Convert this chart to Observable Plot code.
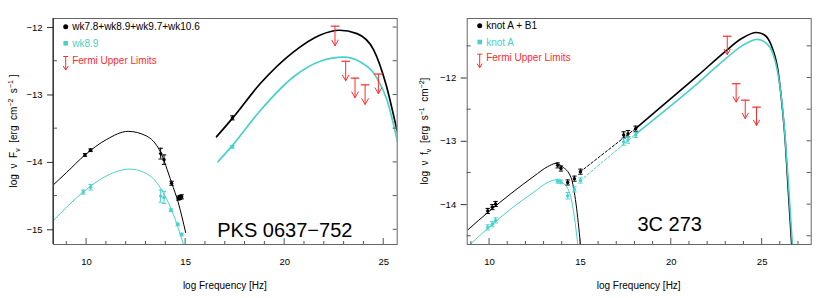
<!DOCTYPE html>
<html><head><meta charset="utf-8">
<script src="https://cdn.jsdelivr.net/npm/d3@7"></script>
<script src="https://cdn.jsdelivr.net/npm/@observablehq/plot@0.6"></script>
<style>
body{margin:0;background:#fff;}
#wrap{display:flex;width:830px;height:298px;overflow:hidden;}
</style></head><body><div id="wrap"></div>
<script>
// ---------- PKS 0637-752 (left panel) ----------
const pksSyncBlackX = [8.3, 8.99, 9.92, 11.01, 12.1, 13.03, 13.7, 14.29, 14.63, 15.0];
const pksSyncBlackY = [-14.34, -14.15, -13.89, -13.66, -13.54, -13.61, -13.83, -14.30, -14.6, -15.04];
const pksSyncCyanX = [8.3, 9.83, 11.01, 12.19, 13.2, 13.87, 14.38, 14.88];
const pksSyncCyanY = [-14.87, -14.44, -14.2, -14.1, -14.2, -14.45, -14.77, -15.21];
const pksICBlackX = [16.56, 17.38, 18.77, 20.45, 21.8, 22.75, 23.65, 24.49, 25.12, 25.59, 25.75];
const pksICBlackY = [-13.62, -13.34, -12.83, -12.36, -12.11, -12.04, -12.09, -12.33, -12.85, -13.42, -13.62];
const pksICCyanX = [16.63, 17.3, 18.77, 20.45, 21.8, 22.98, 23.82, 24.66, 25.17, 25.64, 25.75];
const pksICCyanY = [-13.99, -13.77, -13.23, -12.73, -12.5, -12.44, -12.51, -12.75, -13.08, -13.62, -13.76];
const pksPtsBlackX = [9.92, 10.2, 13.74, 13.91, 14.29, 14.63, 14.72, 14.8, 17.36];
const pksPtsBlackY = [-13.89, -13.82, -13.87, -13.96, -14.31, -14.53, -14.52, -14.51, -13.34];
const pksPtsBlackE = [0.02, 0.02, 0.08, 0.07, 0.03, 0.03, 0.03, 0.03, 0.03];
const pksPtsCyanX = [9.83, 10.2, 13.74, 13.91, 14.26, 14.6, 14.8, 17.36];
const pksPtsCyanY = [-14.44, -14.37, -14.5, -14.52, -14.71, -14.92, -15.07, -13.77];
const pksPtsCyanE = [0.03, 0.04, 0.09, 0.09, 0.02, 0.02, 0.02, 0.02];
const pksULX = [22.54, 23.08, 23.55, 24.06, 24.73];
const pksULY = [-11.98, -12.5, -12.75, -12.85, -12.69];

// ---------- 3C 273 (right panel) ----------
const c3SyncBlackX = [8.8, 9.96, 11.16, 12.45, 13.2, 13.65, 14.0, 14.48, 14.76, 15.0];
const c3SyncBlackY = [-14.4, -14.11, -13.83, -13.55, -13.40, -13.35, -13.40, -13.57, -13.99, -14.62];
const c3SyncCyanX = [8.85, 9.96, 11.16, 12.45, 13.2, 13.65, 14.0, 14.39, 14.67, 14.85];
const c3SyncCyanY = [-14.65, -14.36, -14.07, -13.8, -13.65, -13.61, -13.65, -13.8, -14.2, -14.62];
const c3DashBlackX = [15.0, 18.07];
const c3DashBlackY = [-13.48, -12.79];
const c3DashCyanX = [15.0, 18.07];
const c3DashCyanY = [-13.62, -12.88];
const c3ICBlackX = [18.07, 19.63, 21.47, 22.93, 23.85, 24.68, 25.13, 25.5, 25.87, 26.09, 26.27, 26.41, 26.63];
const c3ICBlackY = [-12.79, -12.41, -11.96, -11.59, -11.38, -11.28, -11.32, -11.48, -11.88, -12.41, -12.99, -13.64, -14.65];
const c3ICCyanX = [18.07, 19.63, 21.47, 22.93, 23.85, 24.73, 25.22, 25.59, 25.87, 26.1, 26.28, 26.44, 26.67];
const c3ICCyanY = [-12.88, -12.52, -12.08, -11.71, -11.5, -11.39, -11.45, -11.61, -11.93, -12.41, -12.99, -13.64, -14.65];
const c3PtsBlackX = [9.9, 10.15, 10.33, 13.75, 13.93, 14.3, 14.67, 15.0, 17.38, 17.62, 18.04];
const c3PtsBlackY = [-14.1, -14.04, -13.99, -13.38, -13.43, -13.65, -13.59, -13.48, -12.9, -12.88, -12.8];
const c3PtsBlackE = [0.04, 0.04, 0.04, 0.04, 0.04, 0.04, 0.04, 0.04, 0.05, 0.05, 0.04];
const c3PtsCyanX = [9.9, 10.15, 10.33, 13.75, 13.93, 14.3, 14.67, 15.0, 17.38, 17.62, 18.04];
const c3PtsCyanY = [-14.36, -14.31, -14.25, -13.63, -13.64, -13.86, -13.76, -13.62, -13.01, -12.98, -12.9];
const c3PtsCyanE = [0.04, 0.04, 0.04, 0.03, 0.03, 0.05, 0.04, 0.04, 0.05, 0.05, 0.04];
const c3ULX = [23.08, 23.57, 24.07, 24.69];
const c3ULY = [-11.34, -12.09, -12.35, -12.46];

const ARROW_LEN = 0.29; // length of upper-limit arrows in log units

const FONT = '"Liberation Sans", Arial, Helvetica, sans-serif';
const CYAN = "#48d1cc";
const RED = "#ff2b2b";

const rows = (xs, ys, es) => xs.map((x, i) => ({x, y: ys[i], e: es ? es[i] : 0}));
const capSymbol = {draw(ctx, size) { const r = Math.sqrt(size / Math.PI); ctx.moveTo(-r, 0); ctx.lineTo(r, 0); }};
const range = (a, b, s) => d3.range(a, b + s / 2, s);

function deco(o) {
  return (index, scales, values, dims) => {
    const {x, y} = scales;
    const L = dims.marginLeft, R = dims.width - dims.marginRight, T = dims.marginTop, B = dims.height - dims.marginBottom;
    const g = d3.create("svg:g").attr("font-family", FONT).attr("text-anchor", "start");
    const tk = g.append("g").attr("stroke", "#555").attr("stroke-width", 1);
    for (const v of o.yMinorLeft) tk.append("line").attr("x1", L).attr("x2", L + 4).attr("y1", y(v)).attr("y2", y(v));
    for (const v of o.yRight) tk.append("line").attr("x1", R).attr("x2", R - 4).attr("y1", y(v)).attr("y2", y(v));
    for (const v of o.xMinor) tk.append("line").attr("x1", x(v)).attr("x2", x(v)).attr("y1", B).attr("y2", B - (v % 5 === 0 ? 6 : 3));
    if (o.leftDark) g.append("line").attr("x1", L).attr("x2", L).attr("y1", T).attr("y2", B).attr("stroke", "#111");
    // y label
    const t = g.append("text").attr("transform", `translate(${L - o.yLabelOff},${(T + B) / 2}) rotate(-90)`)
      .attr("text-anchor", "middle").attr("font-size", 10);
    for (const [s, k] of o.yLabel) {
      const sp = t.append("tspan").text(s);
      if (k === "sub") sp.attr("dy", 3).attr("font-size", 7);
      else if (k === "sup") sp.attr("dy", -4).attr("font-size", 7);
      else if (k === "back-sub") sp.attr("dy", -3);
      else if (k === "back-sup") sp.attr("dy", 4);
    }
    // x label
    g.append("text").attr("x", (L + R) / 2).attr("y", B + 45).attr("text-anchor", "middle").attr("font-size", 10).text("log Frequency [Hz]");
    // source name
    g.append("text").attr("x", (L + R) / 2 + o.nameDx).attr("y", B - o.nameDy).attr("text-anchor", "middle").attr("font-size", 20).text(o.name);
    // legend
    const lx = L + o.legX, tx = L + o.legX + 6.5, ly = o.legY.map(v => T + v);
    g.append("circle").attr("cx", lx).attr("cy", ly[0]).attr("r", 2.5).attr("fill", "#000");
    g.append("text").attr("x", tx).attr("y", ly[0]).attr("dy", "0.35em").attr("font-size", 10).attr("fill", "#000").text(o.leg[0]);
    g.append("rect").attr("x", lx - 2.3).attr("y", ly[1] - 2.3).attr("width", 4.6).attr("height", 4.6).attr("fill", CYAN);
    g.append("text").attr("x", tx).attr("y", ly[1]).attr("dy", "0.35em").attr("font-size", 10).attr("fill", CYAN).text(o.leg[1]);
    const a = g.append("g").attr("stroke", RED).attr("fill", "none").attr("stroke-width", 1);
    const a0 = ly[2] - 3.5, a1 = ly[2] + 10;
    a.append("line").attr("x1", lx - 2.5).attr("x2", lx + 2.5).attr("y1", a0).attr("y2", a0);
    a.append("line").attr("x1", lx).attr("x2", lx).attr("y1", a0).attr("y2", a1);
    a.append("path").attr("d", `M${lx - 2.5},${a1 - 4}L${lx},${a1}L${lx + 2.5},${a1 - 4}`);
    g.append("text").attr("x", tx).attr("y", ly[2]).attr("dy", "0.35em").attr("font-size", 10).attr("fill", RED).text(o.leg[2]);
    return g.node();
  };
}

function pointMarks(pts, color) {
  return [
    Plot.ruleX(pts, {x: "x", y1: d => d.y - d.e, y2: d => d.y + d.e, stroke: color, strokeWidth: 1, clip: true}),
    Plot.dot(pts, {x: "x", y: d => d.y - d.e, symbol: capSymbol, r: 2.2, fill: "none", stroke: color, strokeWidth: 1, clip: true}),
    Plot.dot(pts, {x: "x", y: d => d.y + d.e, symbol: capSymbol, r: 2.2, fill: "none", stroke: color, strokeWidth: 1, clip: true}),
    Plot.dot(pts, {x: "x", y: "y", r: 1.7, fill: color, stroke: "none", clip: true})
  ];
}

function panel(o) {
  const ul = rows(o.ulX, o.ulY);
  return Plot.plot({
    width: 415, height: 298,
    marginLeft: o.ml, marginRight: o.mr, marginTop: 18, marginBottom: 54,
    x: {domain: o.xDomain},
    y: {domain: o.yDomain},
    style: {fontFamily: FONT, fontSize: "9.5px", color: "#000", background: "#fff"},
    marks: [
      Plot.axisY({ticks: o.yMajor, tickSize: 6, tickPadding: 5, label: null, stroke: "#333", tickFormat: d3.format("d")}),
      Plot.axisX({ticks: o.xMajor, tickSize: 0, tickPadding: 14, label: null, tickFormat: d3.format("d")}),
      ...o.lines.map(l => Plot.line(rows(l.x, l.y), {x: "x", y: "y", curve: l.curve || "monotone-x", stroke: l.color, strokeWidth: l.w, strokeDasharray: l.dash, clip: true})),
      ...pointMarks(rows(o.bX, o.bY, o.bE), "#000"),
      ...pointMarks(rows(o.cX, o.cY, o.cE), CYAN),
      Plot.arrow(ul, {x: "x", y1: "y", y2: d => d.y - ARROW_LEN, stroke: RED, strokeWidth: 1, headLength: 12, headAngle: 60}),
      Plot.dot(ul, {x: "x", y: "y", symbol: capSymbol, r: 4.3, fill: "none", stroke: RED, strokeWidth: 1.2}),
      Plot.frame({stroke: "#666"}),
      deco(o)
    ]
  });
}

const left = panel({
  ml: 53, mr: 18.3, xDomain: [8.33, 25.68], yDomain: [-15.218, -11.866],
  yMajor: [-15, -14, -13, -12], xMajor: [10, 15, 20, 25],
  yMinorLeft: [-14.5, -13.5, -12.5], yRight: range(-15, -12, 0.5), xMinor: range(9, 25, 1),
  leftDark: true,
  lines: [
    {x: pksSyncBlackX, y: pksSyncBlackY, color: "#000", w: 1},
    {x: pksSyncCyanX, y: pksSyncCyanY, color: CYAN, w: 1},
    {x: pksICBlackX, y: pksICBlackY, color: "#000", w: 1.7},
    {x: pksICCyanX, y: pksICCyanY, color: CYAN, w: 1.7}
  ],
  bX: pksPtsBlackX, bY: pksPtsBlackY, bE: pksPtsBlackE,
  cX: pksPtsCyanX, cY: pksPtsCyanY, cE: pksPtsCyanE,
  ulX: pksULX, ulY: pksULY,
  yLabelOff: 36,
  yLabel: [["log  ν  F"], ["ν", "sub"], ["  [erg  cm", "back-sub"], ["−2", "sup"], ["  s", "back-sup"], ["−1", "sup"], [" ]", "back-sup"]],
  name: "PKS 0637−752", nameDx: 60, nameDy: 7.5,
  legX: 12.7, legY: [8.7, 25.3, 42],
  leg: ["wk7.8+wk8.9+wk9.7+wk10.6", "wk8.9", "Fermi Upper Limits"]
});

const right = panel({
  ml: 51.7, mr: 19.3, xDomain: [8.77, 27.7], yDomain: [-14.63, -11.06],
  yMajor: [-14, -13, -12], xMajor: [10, 15, 20, 25],
  yMinorLeft: [-14.5, -13.5, -12.5, -11.5], yRight: range(-14.5, -11.5, 0.5), xMinor: range(9, 27, 1),
  leftDark: false,
  lines: [
    {x: c3SyncBlackX, y: c3SyncBlackY, color: "#000", w: 1},
    {x: c3SyncCyanX, y: c3SyncCyanY, color: CYAN, w: 1},
    {x: c3DashBlackX, y: c3DashBlackY, color: "#000", w: 1, dash: "2.5,2", curve: "linear"},
    {x: c3DashCyanX, y: c3DashCyanY, color: CYAN, w: 1, dash: "2.5,2", curve: "linear"},
    {x: c3ICBlackX, y: c3ICBlackY, color: "#000", w: 1.6},
    {x: c3ICCyanX, y: c3ICCyanY, color: CYAN, w: 1.6}
  ],
  bX: c3PtsBlackX, bY: c3PtsBlackY, bE: c3PtsBlackE,
  cX: c3PtsCyanX, cY: c3PtsCyanY, cE: c3PtsCyanE,
  ulX: c3ULX, ulY: c3ULY,
  yLabelOff: 39,
  yLabel: [["log  ν  f"], ["ν", "sub"], ["  [erg  s", "back-sub"], ["−1", "sup"], ["  cm", "back-sup"], ["−2", "sup"], ["]", "back-sup"]],
  name: "3C 273", nameDx: 31, nameDy: 13.3,
  legX: 13, legY: [7.7, 24, 39.7],
  leg: ["knot A + B1", "knot A", "Fermi Upper Limits"]
});

document.getElementById("wrap").append(left, right);
</script>
</body></html>
